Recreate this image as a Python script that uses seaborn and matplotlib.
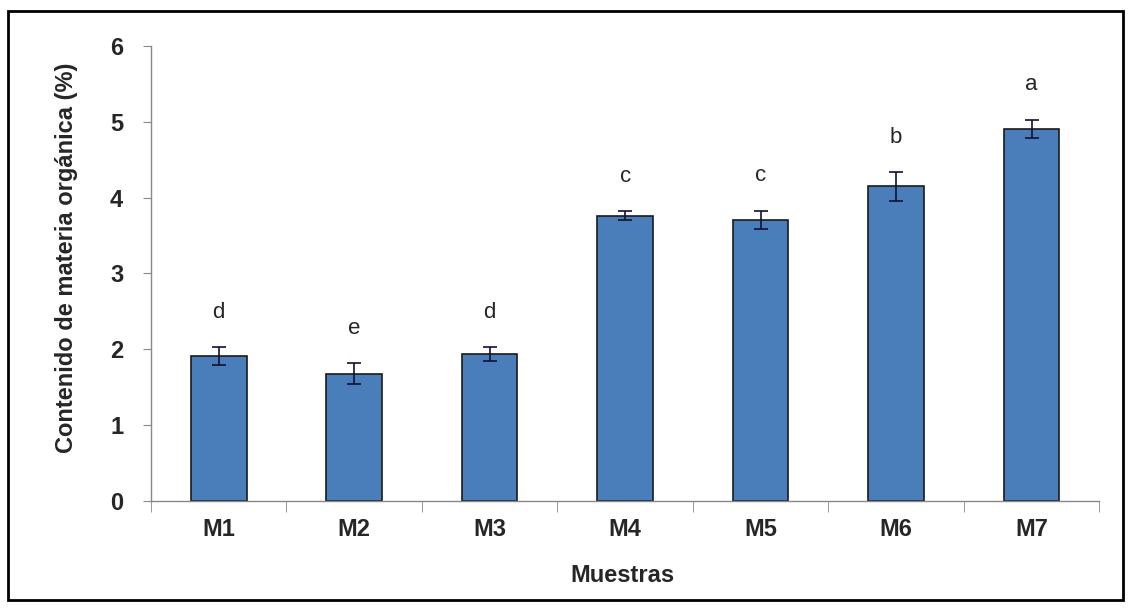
import matplotlib
matplotlib.use("Agg")
import matplotlib.pyplot as plt
import numpy as np
import pandas as pd
import seaborn as sns
from matplotlib.patches import Rectangle

# Data
muestras = ["M1", "M2", "M3", "M4", "M5", "M6", "M7"]
materia_organica = [1.91, 1.68, 1.94, 3.76, 3.71, 4.15, 4.91]
error = [0.12, 0.14, 0.09, 0.06, 0.12, 0.19, 0.12]
letras = ["d", "e", "d", "c", "c", "b", "a"]

df = pd.DataFrame({"muestra": muestras, "mo": materia_organica})

sns.set_style("white")
plt.rcParams["font.family"] = ["Liberation Sans", "DejaVu Sans"]

fig = plt.figure(figsize=(11.31, 6.13), dpi=100)
ax = fig.add_axes([0.1335, 0.1827, 0.8385, 0.7423])

sns.barplot(data=df, x="muestra", y="mo", color="#4A7EBB", width=0.41,
            edgecolor="#1a1a1a", linewidth=1.2, saturation=1, ax=ax)
ax.errorbar(np.arange(len(muestras)), materia_organica, yerr=error,
            fmt="none", ecolor="#111133", elinewidth=1.2, capsize=5, capthick=1.2)

for i, (v, e, l) in enumerate(zip(materia_organica, error, letras)):
    ax.text(i, v + e + 0.32, l, ha="center", va="bottom", fontsize=16)

ax.set_ylim(0, 6)
ax.set_xlim(-0.5, len(muestras) - 0.5)
ax.set_yticks(range(0, 7))
ax.set_xlabel("Muestras", fontsize=17, fontweight="bold")
ax.set_ylabel("Contenido de materia orgánica (%)", fontsize=17,
              fontweight="bold")
ax.xaxis.set_label_coords(0.497, -0.138)
ax.yaxis.set_label_coords(-0.077, 0.535)

for lab in ax.get_xticklabels() + ax.get_yticklabels():
    lab.set_fontweight("bold")
    lab.set_fontsize(17)

sns.despine(ax=ax)
for s in ["left", "bottom"]:
    ax.spines[s].set_color("#888888")
    ax.spines[s].set_linewidth(1)

ax.tick_params(axis="y", which="major", direction="out", length=6,
               color="#888888", left=True, pad=14)
ax.tick_params(axis="x", which="major", length=0, pad=12)
ax.set_xticks(np.arange(-0.5, len(muestras)), minor=True)
ax.tick_params(axis="x", which="minor", direction="out", length=8,
               color="#888888", bottom=True)

fig.patches.append(Rectangle((0.007, 0.021), 0.986, 0.961, transform=fig.transFigure,
                             fill=False, edgecolor="black", linewidth=2))

fig.savefig("out.png", dpi=100)
